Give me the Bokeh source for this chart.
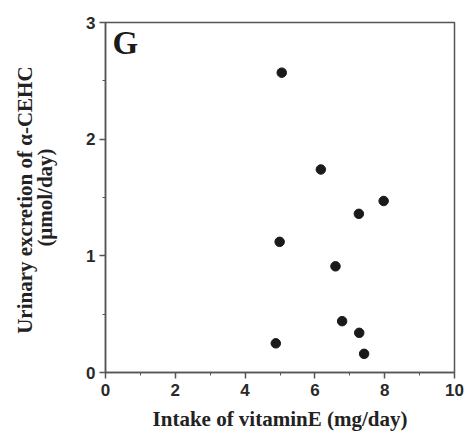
from bokeh.plotting import figure
from bokeh.models import Range1d, FixedTicker, Label, LinearAxis
from bokeh.embed import file_html
from bokeh.resources import INLINE

intake = [5.05, 6.17, 7.97, 7.26, 4.99, 6.59, 6.78, 7.27, 4.88, 7.41]
excretion = [2.57, 1.74, 1.47, 1.36, 1.12, 0.91, 0.44, 0.34, 0.25, 0.16]
x_ticks = [0, 2, 4, 6, 8, 10]
y_ticks = [0, 1, 2, 3]

p = figure(width=467, height=433, output_backend="svg", toolbar_location=None,
           x_range=Range1d(0, 10), y_range=Range1d(0, 3),
           min_border_left=105, min_border_right=13, min_border_top=22, min_border_bottom=61)
p.grid.visible = False
p.background_fill_color = "white"
p.border_fill_color = "white"
p.outline_line_color = "#555555"
p.outline_line_width = 1.5

p.scatter(intake, excretion, size=9.5, color="#1a1a1a")

for ax in (p.xaxis[0], p.yaxis[0]):
    ax.axis_line_color = "#555555"
    ax.axis_line_width = 1.5
    ax.major_tick_line_color = "#555555"
    ax.minor_tick_line_color = "#555555"
    ax.major_tick_line_width = 1.5
    ax.major_tick_out = 6
    ax.major_tick_in = 0
    ax.minor_tick_out = 3
    ax.minor_tick_in = 0
    ax.major_label_text_font = "Liberation Sans"
    ax.major_label_text_font_style = "bold"
    ax.major_label_text_font_size = "17px"
    ax.major_label_text_color = "#2a2a2a"
    ax.axis_label_text_font = "Liberation Serif"
    ax.axis_label_text_font_style = "bold"
    ax.axis_label_text_font_size = "21px"
    ax.axis_label_text_color = "#222222"

p.xaxis.ticker = FixedTicker(ticks=x_ticks, minor_ticks=[1, 3, 5, 7, 9])
p.yaxis.ticker = FixedTicker(ticks=y_ticks, minor_ticks=[0.5, 1.5, 2.5])
p.xaxis.major_label_standoff = 5
p.yaxis.major_label_standoff = 4
p.xaxis.axis_label = "Intake of vitaminE (mg/day)"
p.xaxis.axis_label_standoff = 8
p.yaxis.axis_label = "(\u03bcmol/day)"
p.yaxis.axis_label_standoff = 26

outer = LinearAxis(ticker=FixedTicker(ticks=[]), axis_line_color=None,
                   major_tick_line_color=None, minor_tick_line_color=None,
                   major_tick_out=0, major_tick_in=0, minor_tick_out=0, minor_tick_in=0,
                   major_label_standoff=0,
                   axis_label="Urinary  excretion of \u03b1-CEHC",
                   axis_label_text_font="Liberation Serif",
                   axis_label_text_font_style="bold",
                   axis_label_text_font_size="21px",
                   axis_label_text_color="#222222",
                   axis_label_standoff=-6)
p.add_layout(outer, "left")

p.add_layout(Label(x=0.2, y=2.674, text="G", text_font="Liberation Serif",
                   text_font_style="bold", text_font_size="33px", text_color="#1a1a1a"))

open("out.html", "w").write(file_html(p, INLINE))
